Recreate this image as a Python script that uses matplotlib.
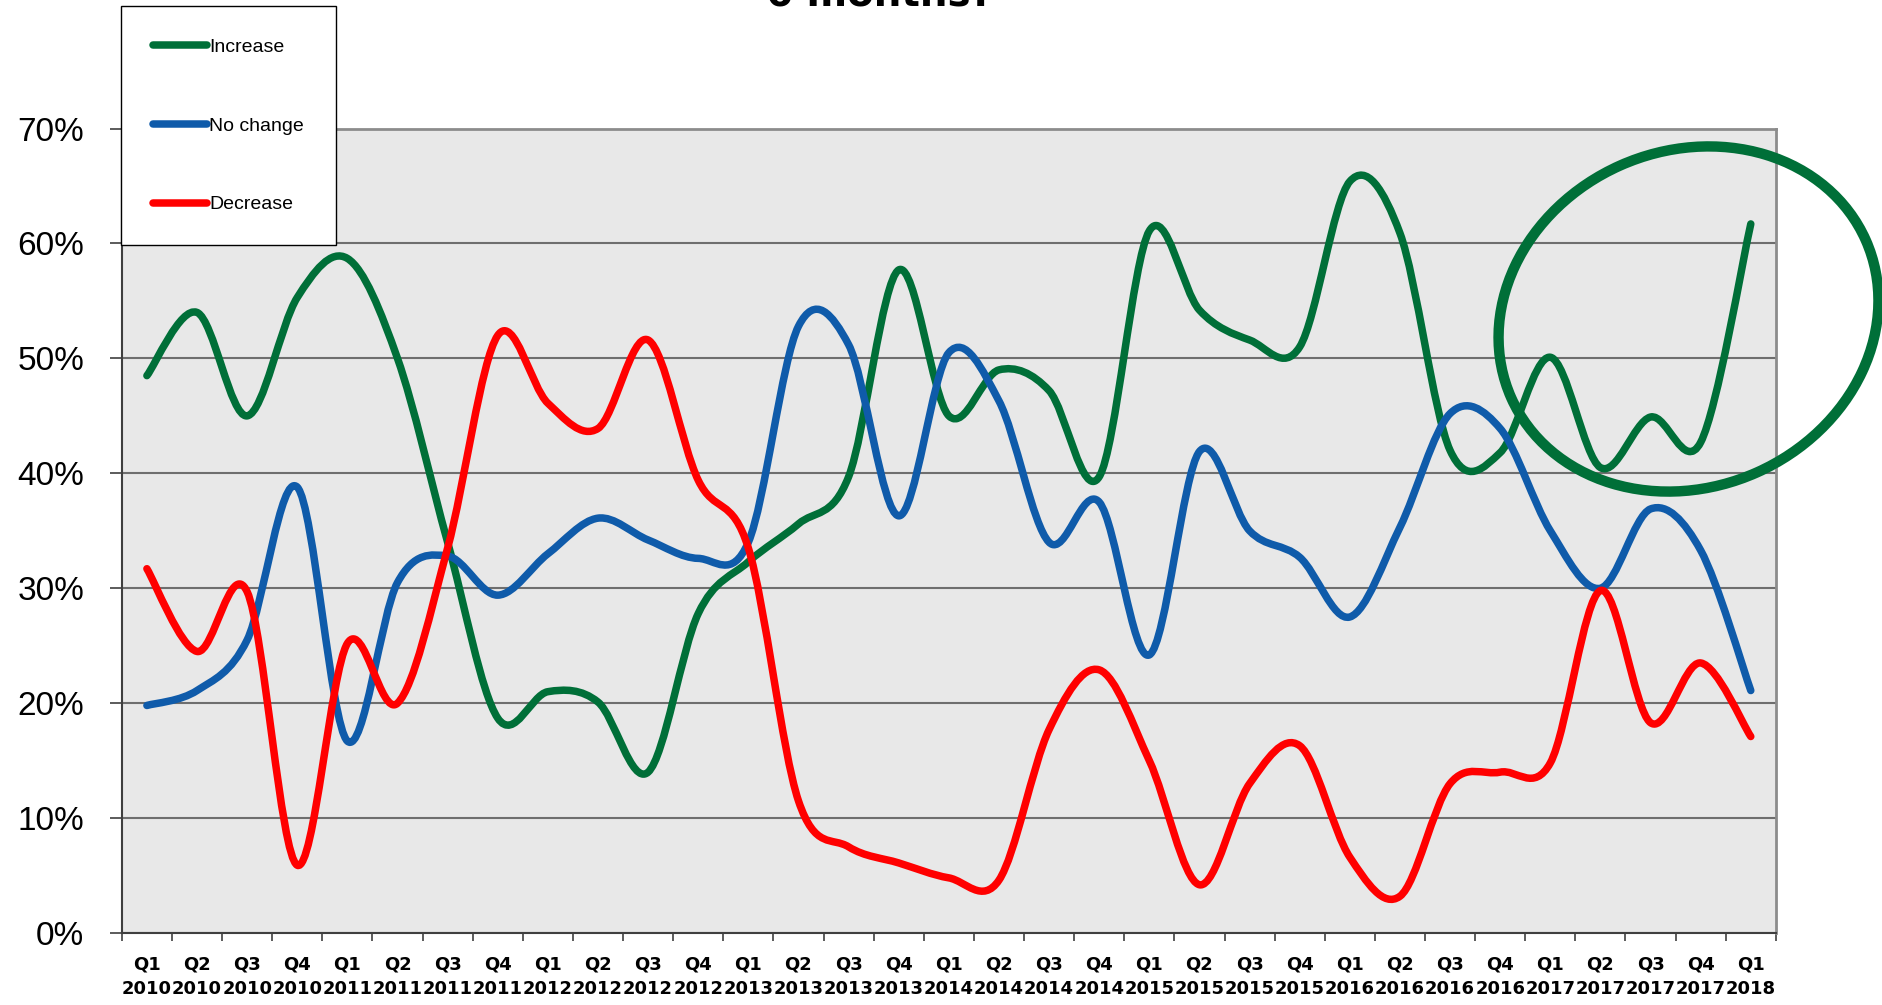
import matplotlib
matplotlib.use('Agg')
import matplotlib.pyplot as plt
from matplotlib.path import Path
from matplotlib.patches import PathPatch, Ellipse
from matplotlib.lines import Line2D

# quarterly survey answers, share of respondents (%)
quarters = ['Q1', 'Q2', 'Q3', 'Q4'] * 8 + ['Q1']
years = [str(y) for y in range(2010, 2018) for _ in range(4)] + ['2018']

increase = [48.5, 54.0, 45.0, 55.3, 58.7, 50.0, 34.0, 18.7, 21.0, 20.1, 14.0,
            27.8, 32.3, 35.6, 39.7, 57.7, 45.0, 49.0, 47.2, 39.7, 61.1, 54.2,
            51.6, 51.0, 65.4, 60.9, 42.0, 41.8, 50.1, 40.5, 44.9, 42.7, 61.7]
no_change = [19.8, 21.1, 25.5, 38.8, 16.7, 30.5, 32.8, 29.4, 33.0, 36.1, 34.2,
             32.6, 34.0, 52.8, 51.2, 36.3, 50.5, 46.3, 34.0, 37.5, 24.2, 41.9,
             35.0, 32.7, 27.5, 35.3, 45.2, 43.9, 35.0, 30.0, 36.9, 33.3, 21.1]
decrease = [31.7, 24.5, 29.7, 5.9, 25.2, 20.0, 33.5, 52.0, 46.1, 43.9, 51.6,
            39.4, 33.5, 11.5, 7.5, 6.1, 4.8, 4.6, 17.7, 22.9, 15.0, 4.2,
            13.0, 16.3, 6.6, 3.2, 13.0, 14.0, 14.8, 29.8, 18.3, 23.5, 17.1]

names = ['Increase', 'No change', 'Decrease']
colors = ['#006F38', '#0F5BAA', '#FF0000']


def smooth_path(values):
    # Catmull-Rom style bezier through every point, like a smoothed line chart
    pts = [(i, v / 100) for i, v in enumerate(values)]
    ext = [pts[0]] + pts + [pts[-1]]
    verts = [pts[0]]
    codes = [Path.MOVETO]
    for k in range(len(pts) - 1):
        p0, p1, p2, p3 = ext[k], ext[k + 1], ext[k + 2], ext[k + 3]
        c1 = (p1[0] + (p2[0] - p0[0]) / 6, p1[1] + (p2[1] - p0[1]) / 6)
        c2 = (p2[0] - (p3[0] - p1[0]) / 6, p2[1] - (p3[1] - p1[1]) / 6)
        verts += [c1, c2, p2]
        codes += [Path.CURVE4] * 3
    return Path(verts, codes)


fig = plt.figure(figsize=(18.83, 10.05), dpi=100)
ax = fig.add_axes([0.0647, 0.0716, 0.8784, 0.8005])
ax.set_facecolor('#E8E8E8')

n = len(quarters)
ax.set_xlim(-0.5, n - 0.5)
ax.set_ylim(0, 0.7)

yticks = [i / 10 for i in range(8)]
ax.set_yticks(yticks)
ax.set_yticklabels(['%d%%' % round(t * 100) for t in yticks],
                   fontsize=24, family='Liberation Sans')
ax.yaxis.grid(True, color='#6E6E6E', linewidth=1.5)
ax.set_axisbelow(True)
ax.tick_params(axis='y', length=9, width=1.2, color='#3F3F3F', pad=18)

ax.set_xticks(range(n))
ax.set_xticklabels([q + '\n' + y for q, y in zip(quarters, years)],
                   fontsize=13, fontweight='bold', family='DejaVu Sans',
                   linespacing=1.5)
ax.set_xticks([i - 0.5 for i in range(n + 1)], minor=True)
ax.tick_params(axis='x', which='major', length=0, pad=16)
ax.tick_params(axis='x', which='minor', length=6, width=1.2, color='#3F3F3F')

for side in ['top', 'right']:
    ax.spines[side].set_color('#8C8C8C')
    ax.spines[side].set_linewidth(2)
for side in ['left', 'bottom']:
    ax.spines[side].set_color('#3F3F3F')
    ax.spines[side].set_linewidth(1.5)

handles = []
for name, vals, col in zip(names, [increase, no_change, decrease], colors):
    patch = PathPatch(smooth_path(vals), fill=False, edgecolor=col,
                      linewidth=5.4, capstyle='round', joinstyle='round')
    ax.add_patch(patch)
    handles.append(Line2D([], [], color=col, linewidth=5.4,
                          solid_capstyle='round', label=name))

leg = fig.legend(handles=handles, loc='upper left',
                 bbox_to_anchor=(121 / 1883, 1 - 6 / 1005),
                 prop={'family': 'Liberation Sans', 'size': 14},
                 handlelength=2.75, handletextpad=0.12, labelspacing=3.15,
                 borderpad=1.65, borderaxespad=0, fancybox=False,
                 framealpha=1, edgecolor='black')
leg.get_frame().set_linewidth(1.0)

# ring around the latest quarters
ring = Ellipse((16.885, 6.86), width=3.88, height=3.36, angle=24,
               transform=fig.dpi_scale_trans, fill=False,
               edgecolor='#006F38', linewidth=7.5)
fig.add_artist(ring)

fig.text(880 / 1883, 1 - 5 / 1005, '6 months?', ha='center', va='baseline',
         fontsize=28, fontweight='bold', family='DejaVu Sans')

fig.savefig('out.png', dpi=100)
